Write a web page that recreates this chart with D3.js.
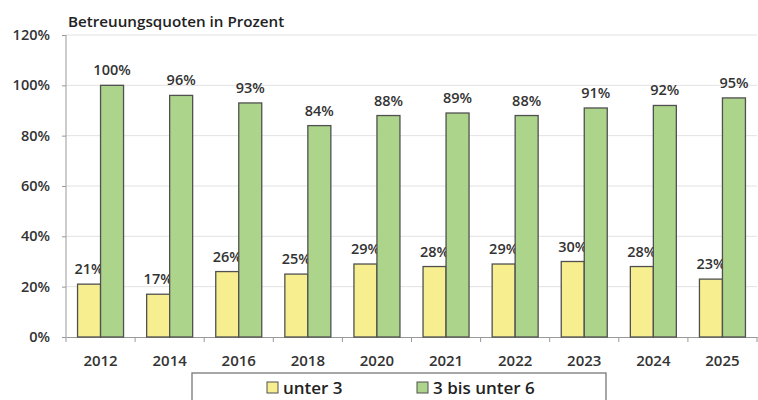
<!DOCTYPE html>
<html><head><meta charset="utf-8">
<script src="https://cdn.jsdelivr.net/npm/d3@7"></script>
<style>body{margin:0;background:#fff}svg{display:block}</style>
</head><body>
<svg id="c" width="758" height="400"></svg>
<script>
const years = ["2012","2014","2016","2018","2020","2021","2022","2023","2024","2025"];
const unter3 = [21,17,26,25,29,28,29,30,28,23];
const bis6 = [100,96,93,84,88,89,88,91,92,95];
const yTicks = [0,20,40,60,80,100,120];
const seriesNames = ["unter 3","3 bis unter 6"];
const colors = ["#f6ee8f","#acd48b"];

const svg = d3.select("#c");
const font = "'Open Sans', 'Liberation Sans', Arial, sans-serif";
const fw = 600;
const x = d3.scaleBand().domain(years).range([66,757]).paddingInner(0).paddingOuter(0);
const y = d3.scaleLinear().domain([0,120]).range([337,35]);
const barW = 23;

// gridlines
svg.append("g").selectAll("line").data(yTicks.slice(1)).join("line")
  .attr("x1",66).attr("x2",757).attr("y1",d=>y(d)).attr("y2",d=>y(d))
  .attr("stroke","#e2e2e2").attr("stroke-width",1);

// y axis
const ya = svg.append("g").attr("transform","translate(66,0)")
  .call(d3.axisLeft(y).tickValues(yTicks).tickFormat(d=>d+"%").tickSize(4));
ya.select(".domain").attr("stroke","#999").attr("d","M0,35V337");
ya.selectAll(".tick line").attr("stroke","#999");
ya.selectAll("text").attr("font-family",font).attr("font-weight",fw).attr("font-size",14.5)
  .attr("fill","#333").attr("x",-16);

// x axis
const xa = svg.append("g").attr("transform","translate(0,337)")
  .call(d3.axisBottom(x).tickSize(0));
xa.select(".domain").attr("stroke","#999");
xa.selectAll("text").attr("font-family",font).attr("font-weight",fw).attr("font-size",15)
  .attr("fill","#333").attr("dy",0).attr("y",29);
svg.append("g").selectAll("line").data(years).join("line")
  .attr("x1",d=>x(d)+x.bandwidth()).attr("x2",d=>x(d)+x.bandwidth())
  .attr("y1",337).attr("y2",342).attr("stroke","#999");
svg.append("line").attr("x1",66).attr("x2",66).attr("y1",337).attr("y2",342).attr("stroke","#999");

const data = [unter3, bis6];
data.forEach((vals,si)=>{
  const g = svg.append("g");
  g.selectAll("rect").data(vals).join("rect")
    .attr("x",(d,i)=>x(years[i]) + x.bandwidth()/2 - barW + si*barW)
    .attr("y",d=>y(d)).attr("width",barW).attr("height",d=>y(0)-y(d))
    .attr("fill",colors[si]).attr("stroke","#505050").attr("stroke-width",1.3);
  g.selectAll("text").data(vals).join("text")
    .attr("x",(d,i)=>x(years[i]) + x.bandwidth()/2 - barW/2 + si*barW)
    .attr("y",d=>y(d)-10)
    .attr("text-anchor","middle").attr("font-family",font).attr("font-weight",fw).attr("font-size",14.5)
    .attr("fill","#333").text(d=>d+"%");
});

// title
svg.append("text").attr("x",68).attr("y",27).attr("font-family",font).attr("font-weight",fw)
  .attr("font-size",15.2).attr("fill","#222").text("Betreuungsquoten in Prozent");

// legend
svg.append("rect").attr("x",192).attr("y",373).attr("width",414).attr("height",40)
  .attr("fill","#fff").attr("stroke","#777").attr("stroke-width",1.3);
const lx = [267,417];
seriesNames.forEach((n,i)=>{
  svg.append("rect").attr("x",lx[i]).attr("y",382).attr("width",11).attr("height",11)
    .attr("fill",colors[i]).attr("stroke","#505050");
  svg.append("text").attr("x",lx[i]+16).attr("y",394).attr("font-family",font).attr("font-weight",fw)
    .attr("font-size",17).attr("fill","#222").text(n);
});
</script>
</body></html>
